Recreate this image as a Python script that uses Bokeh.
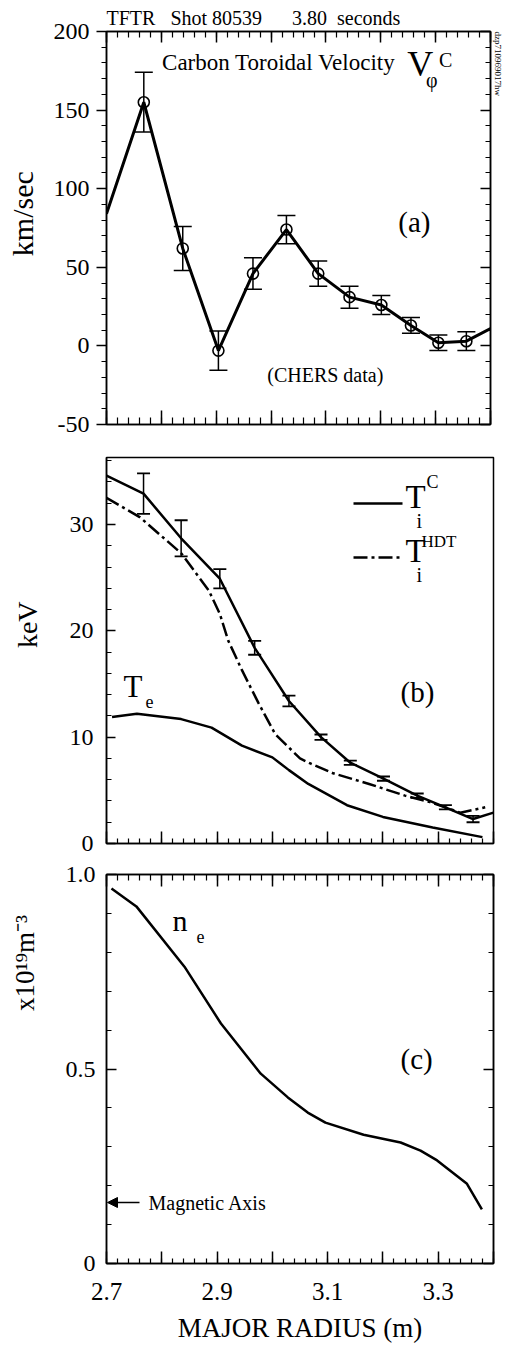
import math
from bokeh.plotting import figure
from bokeh.layouts import column, row
from bokeh.core.properties import value
from bokeh.models import (LinearAxis, Range1d, FixedTicker, CustomJSTickFormatter, Label, Title,
                          Arrow, NormalHead, Whisker, TeeHead, ColumnDataSource,
                          CustomLabelingPolicy)
from bokeh.embed import file_html
from bokeh.resources import INLINE

FONT = "Liberation Serif"
NB = "\u00a0"

# ---------------- data ----------------
x_lim = (2.7, 3.4)
x_major = [2.7, 2.8, 2.9, 3.0, 3.1, 3.2, 3.3, 3.4]

# (a) carbon toroidal velocity (km/s)
vphi_x = [2.768, 2.839, 2.904, 2.967, 3.028, 3.086, 3.143, 3.201, 3.255, 3.305, 3.356]
vphi_y = [155, 62, -3, 46, 74, 46, 31, 26, 13, 2, 3]
vphi_err = [19, 14, 12.5, 10, 9, 8, 7, 6, 5, 5, 6]
vphi_edge_x = [2.70, 3.40]
vphi_edge_y = [84, 11]

# (b) temperatures (keV)
ti_x = [2.70, 2.767, 2.835, 2.905, 2.968, 3.030, 3.088, 3.141, 3.201, 3.262, 3.313, 3.363, 3.40]
ti_y = [34.6, 32.9, 28.7, 24.9, 18.4, 13.4, 10.0, 7.6, 6.1, 4.5, 3.4, 2.3, 2.9]
ti_err_x = [2.767, 2.835, 2.905, 2.968, 3.030, 3.088, 3.141, 3.201, 3.262, 3.313, 3.363]
ti_err_y = [32.9, 28.7, 24.9, 18.4, 13.4, 10.0, 7.6, 6.1, 4.5, 3.4, 2.3]
ti_err = [1.9, 1.7, 0.9, 0.65, 0.5, 0.25, 0.2, 0.2, 0.2, 0.2, 0.3]

hdt_x = [2.70, 2.76, 2.835, 2.885, 2.905, 2.92, 2.945, 2.975, 3.005, 3.05, 3.07, 3.11, 3.175, 3.24, 3.285, 3.34, 3.385]
hdt_y = [32.5, 30.7, 27.3, 23.8, 21.6, 19.1, 16.3, 13.2, 10.3, 8.0, 7.5, 6.6, 5.6, 4.5, 3.9, 2.9, 3.4]

te_x = [2.71, 2.755, 2.835, 2.89, 2.945, 3.0, 3.03, 3.065, 3.135, 3.2, 3.29, 3.38]
te_y = [11.9, 12.2, 11.7, 10.9, 9.2, 8.1, 6.9, 5.6, 3.6, 2.5, 1.5, 0.6]

# (c) electron density (1e19 m^-3)
ne_x = [2.709, 2.754, 2.841, 2.907, 2.979, 3.028, 3.064, 3.096, 3.165, 3.232, 3.268, 3.298, 3.352, 3.379]
ne_y = [0.964, 0.918, 0.763, 0.617, 0.488, 0.427, 0.388, 0.362, 0.331, 0.311, 0.290, 0.265, 0.205, 0.139]

va_ticks = [-50, 0, 50, 100, 150, 200]
vb_ticks = [0, 10, 20, 30]
vc_ticks = [0, 0.5, 1.0]

# ---------------- layout constants ----------------
W = 507
SIDE = 44            # width of the strip that carries the y-axis titles
L, R = 106, 493      # frame edges on the page
HIDE = CustomLabelingPolicy(code="for (const i of indices) indices.unset(i); return indices;")


def conv(T, B, y0, y1):
    fx = lambda px: x_lim[0] + (px - L) * (x_lim[1] - x_lim[0]) / (R - L)
    fy = lambda py: y0 + (B - py) * (y1 - y0) / (B - T)
    return fx, fy


def make_fig(height, top, bottom, y0, y1):
    p = figure(width=W - SIDE, height=height, x_range=Range1d(*x_lim), y_range=Range1d(y0, y1),
               output_backend="svg", toolbar_location=None,
               min_border_left=L - SIDE, min_border_right=W - R,
               min_border_top=top, min_border_bottom=bottom)
    p.xgrid.visible = False
    p.ygrid.visible = False
    p.outline_line_color = "black"
    p.outline_line_width = 1.5
    p.outline_line_alpha = 1.0
    p.background_fill_color = "white"
    p.border_fill_color = "white"
    return p


def side_strip(height, offset_y):
    s = figure(width=SIDE, height=height, x_range=Range1d(0, SIDE),
               y_range=Range1d(offset_y + height, offset_y),
               output_backend="svg", toolbar_location=None, min_border=0)
    s.axis.visible = False
    s.grid.visible = False
    s.outline_line_color = None
    s.background_fill_color = "white"
    s.border_fill_color = "white"
    return s


def style_axis(ax, tin, tout, minin, minout, labels=True, size=24, standoff=8):
    ax.axis_line_color = "black"
    ax.axis_line_width = 1.5
    ax.major_tick_line_color = "black"
    ax.minor_tick_line_color = "black"
    ax.major_tick_line_width = 1.5
    ax.minor_tick_line_width = 1.2
    ax.major_tick_in = tin
    ax.major_tick_out = tout
    ax.minor_tick_in = minin
    ax.minor_tick_out = minout
    ax.major_label_text_font = FONT
    ax.major_label_text_font_style = "normal"
    ax.major_label_text_color = "black"
    ax.major_label_standoff = standoff
    if labels:
        ax.major_label_text_font_size = f"{size}px"
    else:
        ax.major_label_text_font_size = "0px"
        ax.major_label_standoff = 0
        ax.major_label_policy = HIDE


def xticker():
    return FixedTicker(ticks=x_major, minor_ticks=[round(2.7 + 0.02 * i, 2) for i in range(36)])


def lab(p, c, px, py, text, size):
    fx, fy = c
    p.add_layout(Label(x=fx(px), y=fy(py - 0.35 * size), text=text, text_font=FONT,
                       text_font_size=f"{size}px", text_align="left",
                       text_baseline="alphabetic", text_color="black"))


def ytitle(s, cx, cy, text, size):
    s.text(x=[cx], y=[cy], text=[text], angle=math.pi / 2, text_align="center",
           text_baseline="middle", text_font=value(FONT), text_font_size=f"{size}px",
           text_color="black")


plain = CustomJSTickFormatter(code="return tick.toString();")

# ================= panel (a) =================
A_T, A_B = 31, 424
pa = make_fig(440, A_T, 440 - A_B, -50, 200)
ca = conv(A_T, A_B, -50, 200)
sa = side_strip(440, 0)

pa.xaxis.ticker = xticker()
style_axis(pa.xaxis[0], 14, 0, 7, 0, labels=False)
pa.yaxis.ticker = FixedTicker(ticks=va_ticks, minor_ticks=list(range(-50, 201, 10)))
pa.yaxis.formatter = plain
style_axis(pa.yaxis[0], 0, 10, 0, 5, labels=True, size=24, standoff=7)

top_a = LinearAxis(ticker=xticker())
style_axis(top_a, 11, 0, 6, 0, labels=False)
pa.add_layout(top_a, "above")
right_a = LinearAxis(ticker=FixedTicker(ticks=va_ticks, minor_ticks=list(range(-50, 201, 10))))
style_axis(right_a, 10, 0, 5, 0, labels=False)
pa.add_layout(right_a, "right")

line_x = [vphi_edge_x[0]] + vphi_x + [vphi_edge_x[1]]
line_y = [vphi_edge_y[0]] + vphi_y + [vphi_edge_y[1]]
pa.line(line_x, line_y, line_color="black", line_width=3)
src_a = ColumnDataSource(dict(x=vphi_x, up=[v + e for v, e in zip(vphi_y, vphi_err)],
                              lo=[v - e for v, e in zip(vphi_y, vphi_err)]))
pa.add_layout(Whisker(source=src_a, base="x", upper="up", lower="lo", line_width=1.5,
                      line_color="black",
                      upper_head=TeeHead(size=18, line_width=1.5, line_color="black"),
                      lower_head=TeeHead(size=18, line_width=1.5, line_color="black")))
pa.scatter(vphi_x, vphi_y, marker="circle", size=11, fill_color=None,
           line_color="black", line_width=1.6)

pa.title.text = ("TFTR" + NB * 3 + "Shot 80539" + NB * 6 + "3.80" + NB * 2 + "seconds")
pa.title.align = "left"
pa.title.standoff = 6
pa.title.text_font = FONT
pa.title.text_font_size = "20px"
pa.title.text_font_style = "normal"
pa.title.text_color = "black"

lab(pa, ca, 162, 70, "Carbon Toroidal Velocity", 23)
lab(pa, ca, 409, 76, "V", 36)
lab(pa, ca, 428, 86, "φ", 20)
lab(pa, ca, 441, 66, "C", 20)
lab(pa, ca, 400, 232, "(a)", 29)
lab(pa, ca, 268, 381, "(CHERS data)", 20)
pa.add_layout(Title(text="dzp710969017hw", align="left", offset=0, standoff=5,
                    text_font=FONT, text_font_size="9px", text_font_style="normal",
                    text_color="black"), "right")
ytitle(sa, 22, 204, "km/sec", 30)

# ================= panel (b) =================
OFF_B = 440
B_T, B_B = 457, 843
pb = make_fig(420, B_T - OFF_B, OFF_B + 420 - B_B, 0, 36.3)
cb = conv(B_T, B_B, 0, 36.3)
sb = side_strip(420, OFF_B)

pb.xaxis.ticker = xticker()
style_axis(pb.xaxis[0], 12, 0, 5, 0, labels=False)
pb.yaxis.ticker = FixedTicker(ticks=vb_ticks, minor_ticks=list(range(0, 37, 2)))
style_axis(pb.yaxis[0], 9, 0, 5, 0, labels=True, size=24, standoff=13)

pb.line(ti_x, ti_y, line_color="black", line_width=2.5)
src_b = ColumnDataSource(dict(x=ti_err_x, up=[v + e for v, e in zip(ti_err_y, ti_err)],
                              lo=[v - e for v, e in zip(ti_err_y, ti_err)]))
pb.add_layout(Whisker(source=src_b, base="x", upper="up", lower="lo", line_width=1.5,
                      line_color="black",
                      upper_head=TeeHead(size=13, line_width=1.8, line_color="black"),
                      lower_head=TeeHead(size=13, line_width=1.8, line_color="black")))
pb.line(hdt_x, hdt_y, line_color="black", line_width=2.5, line_dash="14 4 3 4")
pb.line(te_x, te_y, line_color="black", line_width=2.5)

fxb, fyb = cb
pb.segment(x0=[fxb(353)], y0=[fyb(503)], x1=[fxb(402)], y1=[fyb(503)],
           line_color="black", line_width=2.5)
pb.segment(x0=[fxb(353)], y0=[fyb(557)], x1=[fxb(402)], y1=[fyb(557)],
           line_color="black", line_width=2.5, line_dash="14 4 3 4")
lab(pb, cb, 405, 508, "T", 33)
lab(pb, cb, 416, 527, "i", 20)
lab(pb, cb, 426, 488, "C", 18)
lab(pb, cb, 405, 562, "T", 33)
lab(pb, cb, 416, 581, "i", 20)
lab(pb, cb, 421, 547, "HDT", 17)
lab(pb, cb, 400, 702, "(b)", 29)
lab(pb, cb, 123, 697, "T", 31)
lab(pb, cb, 145, 707, "e", 18)
ytitle(sb, 27, 622, "keV", 28)

# ================= panel (c) =================
OFF_C = 860
C_T, C_B = 874, 1263
pc = make_fig(488, C_T - OFF_C, OFF_C + 488 - C_B, 0, 1.0)
cc = conv(C_T, C_B, 0, 1.0)
sc = side_strip(488, OFF_C)

pc.xaxis.ticker = xticker()
pc.xaxis.formatter = CustomJSTickFormatter(
    code="const v = Math.round(tick*10); return (v % 2 == 1) ? tick.toFixed(1) : '';")
style_axis(pc.xaxis[0], 12, 0, 5, 0, labels=True, size=25, standoff=19)
pc.xaxis.axis_label = "MAJOR RADIUS (m)"
pc.xaxis.axis_label_text_font = FONT
pc.xaxis.axis_label_text_font_size = "27px"
pc.xaxis.axis_label_text_font_style = "normal"
pc.xaxis.axis_label_text_color = "black"
pc.xaxis.axis_label_standoff = 10
pc.yaxis.ticker = FixedTicker(ticks=vc_ticks, minor_ticks=[round(0.1 * i, 1) for i in range(11)])
pc.yaxis.formatter = CustomJSTickFormatter(code="return tick == 0 ? '0' : tick.toFixed(1);")
style_axis(pc.yaxis[0], 10, 0, 5, 0, labels=True, size=24, standoff=11)

top_c = LinearAxis(ticker=xticker())
style_axis(top_c, 12, 0, 6, 0, labels=False)
pc.add_layout(top_c, "above")
right_c = LinearAxis(ticker=FixedTicker(ticks=vc_ticks, minor_ticks=[round(0.1 * i, 1) for i in range(11)]))
style_axis(right_c, 10, 0, 5, 0, labels=False)
pc.add_layout(right_c, "right")

pc.line(ne_x, ne_y, line_color="black", line_width=2.5)

fxc, fyc = cc
pc.add_layout(Arrow(end=NormalHead(size=10, fill_color="black", line_color="black", line_width=1),
                    x_start=fxc(139), y_start=fyc(1202), x_end=fxc(107), y_end=fyc(1202),
                    line_color="black", line_width=1.5))
lab(pc, cc, 148, 1209, "Magnetic Axis", 20)
lab(pc, cc, 172, 930, "n", 30)
lab(pc, cc, 196, 942, "e", 18)
lab(pc, cc, 400, 1069, "(c)", 29)
ytitle(sc, 24, 971, "x10\u00b9\u2079m\u207b\u00b3", 27)

page = column(row(sa, pa, spacing=0), row(sb, pb, spacing=0), row(sc, pc, spacing=0), spacing=0)
open("out.html", "w").write(file_html(page, INLINE))
